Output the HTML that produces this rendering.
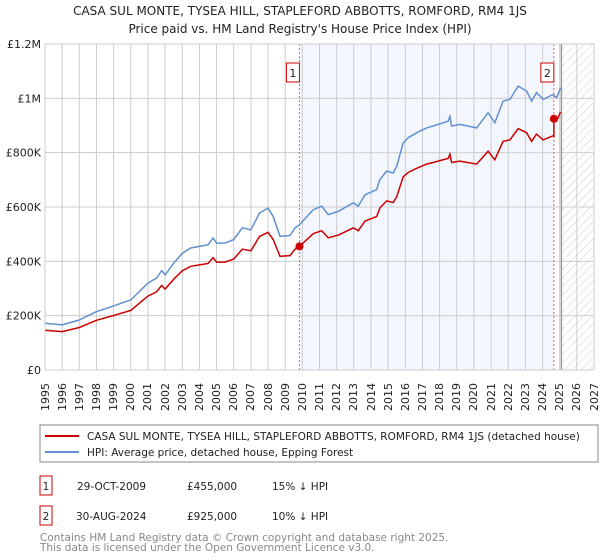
<!DOCTYPE html>
<html><head><meta charset="utf-8"><style>
body{margin:0;background:#fff;font-family:"DejaVu Sans","Liberation Sans",sans-serif;}
svg text{font-family:"DejaVu Sans","Liberation Sans",sans-serif;}
#wrap{position:relative;width:600px;height:560px;overflow:hidden;}
#wrap svg{position:absolute;left:0;top:0;}
.xl{position:absolute;top:375px;width:13px;height:36px;font-size:11px;line-height:13px;color:#222;writing-mode:vertical-rl;transform:rotate(180deg);text-align:left;white-space:nowrap;}
</style></head><body>
<div id="wrap">
<svg id="chart" width="600" height="560" viewBox="0 0 600 560" xmlns="http://www.w3.org/2000/svg">
<defs><pattern id="hatch" width="6" height="6" patternUnits="userSpaceOnUse" patternTransform="rotate(45)"><line x1="0" y1="0" x2="0" y2="6" stroke="#ccc" stroke-width="1"/></pattern></defs>
<text x="300" y="15" text-anchor="middle" font-size="12" fill="#222">CASA SUL MONTE, TYSEA HILL, STAPLEFORD ABBOTTS, ROMFORD, RM4 1JS</text>
<text x="300" y="33" text-anchor="middle" font-size="12" fill="#222">Price paid vs. HM Land Registry's House Price Index (HPI)</text>
<g id="plot"></g>
<rect x="40" y="425" width="558" height="37" fill="#fff" stroke="#888"/>
<line x1="45" y1="436" x2="79" y2="436" stroke="#cc0000" stroke-width="2"/>
<text x="87" y="440" font-size="10.5" fill="#222">CASA SUL MONTE, TYSEA HILL, STAPLEFORD ABBOTTS, ROMFORD, RM4 1JS (detached house)</text>
<line x1="45" y1="452" x2="79" y2="452" stroke="#6090d0" stroke-width="2"/>
<text x="87" y="456" font-size="10.5" fill="#222">HPI: Average price, detached house, Epping Forest</text>
<g font-size="10.5" fill="#222">
<rect x="40" y="476" width="12" height="19" fill="#fff" stroke="#cc0000"/><text x="46" y="490" text-anchor="middle">1</text>
<text x="77" y="490">29-OCT-2009</text><text x="187" y="490">£455,000</text><text x="272" y="490">15% ↓ HPI</text></g>
<g font-size="10.5" fill="#222">
<rect x="40" y="506" width="12" height="19" fill="#fff" stroke="#cc0000"/><text x="46" y="520" text-anchor="middle">2</text>
<text x="76" y="520">30-AUG-2024</text><text x="187" y="520">£925,000</text><text x="272" y="520">10% ↓ HPI</text></g>
<text x="40" y="541" font-size="10.5" fill="#888">Contains HM Land Registry data © Crown copyright and database right 2025.</text>
<text x="40" y="551" font-size="10.5" fill="#888">This data is licensed under the Open Government Licence v3.0.</text>
</svg>
</div>
<script>
const hpiYears=[1995,1996,1997,1998,1999,2000,2000.5,2001,2001.5,2001.8,2002,2002.5,2003,2003.5,2004,2004.5,2004.8,2005,2005.5,2006,2006.5,2007,2007.5,2008,2008.3,2008.7,2009.28,2009.57,2009.83,2010.64,2011.13,2011.51,2012.1,2012.97,2013.26,2013.65,2014.33,2014.52,2014.91,2015.3,2015.5,2015.88,2016.17,2016.66,2017.24,2017.63,2018.5,2018.6,2018.7,2019.18,2020.16,2020.83,2021.22,2021.7,2022.1,2022.58,2023.07,2023.36,2023.65,2024.04,2024.62,2024.82,2025.05];
const hpiValues=[172,166,184,215,236,258,289,320,338,366,350,393,430,449,455,461,486,467,467,480,523,516,578,596,565,492,495,523,535,590,603,572,584,615,603,645,664,701,732,725,750,836,855,873,891,898,916,934,898,904,891,947,910,990,996,1045,1027,990,1021,996,1014,1002,1039];
const saleYears=[2009.83,2024.66];
const salePrices=[455,925];
const saleLabels=["1","2"];
const yTicks=[0,200,400,600,800,1000,1200];
const yTickLabels=["£0","£200K","£400K","£600K","£800K","£1M","£1.2M"];
const xTicks=[1995,1996,1997,1998,1999,2000,2001,2002,2003,2004,2005,2006,2007,2008,2009,2010,2011,2012,2013,2014,2015,2016,2017,2018,2019,2020,2021,2022,2023,2024,2025,2026,2027];
const X0=45,X1=594,Y0=370,Y1=44,XMIN=1995,XMAX=2027,YMAX=1200,DATA_END=2025.1;
const xs=v=>X0+(v-XMIN)/(XMAX-XMIN)*(X1-X0);
const ys=v=>Y0-v/YMAX*(Y0-Y1);
const NS="http://www.w3.org/2000/svg";
const g=document.getElementById('plot');
const wrap=document.getElementById('wrap');
function mk(t,a,p){const e=document.createElementNS(NS,t);for(const k in a)e.setAttribute(k,a[k]);(p||g).appendChild(e);return e;}
function interp(y){for(let i=0;i<hpiYears.length-1;i++){if(y<=hpiYears[i+1]){const t=(y-hpiYears[i])/(hpiYears[i+1]-hpiYears[i]);return hpiValues[i]+t*(hpiValues[i+1]-hpiValues[i]);}}return hpiValues[hpiValues.length-1];}
let bg=mk('rect',{x:xs(saleYears[0]),y:Y1,width:xs(saleYears[1])-xs(saleYears[0]),height:Y0-Y1,fill:'#eef2fc',opacity:0.7});


let hf=mk('rect',{x:xs(DATA_END),y:Y1,width:X1-xs(DATA_END),height:Y0-Y1,fill:'url(#hatch)'});


xTicks.forEach(t=>{let l=mk('line',{x1:xs(t),x2:xs(t),y1:Y1,y2:Y0,stroke:'#ccc','stroke-width':1});


const d=document.createElement('div');
d.className='xl';
d.style.left=(xs(t)-6.5).toFixed(1)+'px';
d.textContent=t;


wrap.appendChild(d);});
yTicks.forEach((t,i)=>{let l=mk('line',{x1:X0,x2:X1,y1:ys(t),y2:ys(t),stroke:'#ccc','stroke-width':1});


let tx=mk('text',{x:X0-4,y:ys(t)+4,'text-anchor':'end','font-size':11,fill:'#222'});tx.textContent=yTickLabels[i];

});
let dl=mk('line',{x1:xs(DATA_END),x2:xs(DATA_END),y1:Y1,y2:Y0,stroke:'#999','stroke-width':1.5});


saleYears.forEach((s,i)=>{let l=mk('line',{x1:xs(s),x2:xs(s),y1:Y1,y2:Y0,stroke:'#f06060','stroke-dasharray':'2,2','stroke-width':1});


let r=mk('rect',{x:xs(s)-13,y:63,width:13,height:19,fill:'#fff',stroke:'#cc0000'});


let tx=mk('text',{x:xs(s)-6.5,y:77,'text-anchor':'middle','font-size':11,fill:'#222'});tx.textContent=saleLabels[i];

});
let hp=hpiYears.map((y,i)=>xs(y).toFixed(1)+','+ys(hpiValues[i]).toFixed(1)).join(' ');
let hl=mk('polyline',{points:hp,fill:'none',stroke:'#6090d0','stroke-width':1.5});


const r1=salePrices[0]/interp(saleYears[0]),r2=salePrices[1]/interp(saleYears[1]);
let rp=[];hpiYears.forEach((y,i)=>{if(y>saleYears[1]&&rp.length&&hpiYears[i-1]<=saleYears[1]){rp.push([saleYears[1],interp(saleYears[1])*r1]);rp.push([saleYears[1],salePrices[1]]);}rp.push([y,hpiValues[i]*(y>saleYears[1]?r2:r1)]);});
let rl=mk('polyline',{points:rp.map(p=>xs(p[0]).toFixed(1)+','+ys(p[1]).toFixed(1)).join(' '),fill:'none',stroke:'#cc0000','stroke-width':1.5});


saleYears.forEach((s,i)=>{let c=mk('circle',{cx:xs(s),cy:ys(salePrices[i]),r:4,fill:'#cc0000'});

});
let fr=mk('rect',{x:X0,y:Y1,width:X1-X0,height:Y0-Y1,fill:'none',stroke:'#ccc'});


</script>
</body></html>
